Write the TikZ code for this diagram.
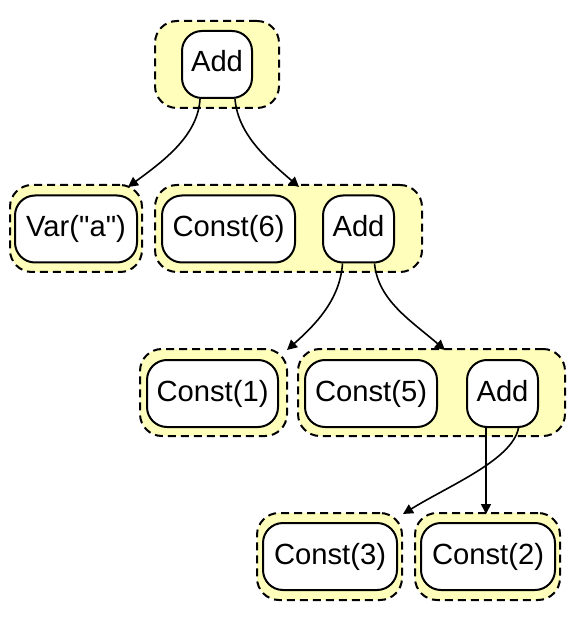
\documentclass[tikz,border=0pt]{standalone}
\usepackage{fontspec}
\setmainfont{Liberation Sans}[Ligatures=TeXOff]
\usetikzlibrary{arrows.meta}
\definecolor{softyellow}{HTML}{FFFFBB}

\begin{document}
\begin{tikzpicture}[x=0.5pt,y=-0.5pt,>=Latex,font=\fontsize{14.6}{17}\selectfont]
  \tikzset{
    cluster/.style={draw=black,fill=softyellow,dash pattern=on 4pt off 2.5pt,line width=1pt,rounded corners=11pt,minimum height=43.5pt,inner sep=0pt},
    term/.style={draw=black,fill=white,line width=1pt,rounded corners=10pt,minimum height=33.5pt,inner sep=0pt,text height=10.5pt,text depth=3pt},
    flow/.style={black,line width=.8pt,-{Triangle[length=5pt,width=5pt]}}
  }
  \useasboundingbox (0,0) rectangle (580,619);

  % Clusters.
  \node[cluster,minimum width=62pt] (clTop) at (217,64.5) {};
  \node[cluster,minimum width=66pt] (clVar) at (76,228.5) {};
  \node[cluster,minimum width=133.5pt] (clB) at (288.5,228.5) {};
  \node[cluster,minimum width=73.5pt] (clOne) at (213.5,392.5) {};
  \node[cluster,minimum width=133.5pt] (clC) at (431.5,392.5) {};
  \node[cluster,minimum width=72.5pt] (clThree) at (329.5,556.5) {};
  \node[cluster,minimum width=72.5pt] (clTwo) at (487.5,556.5) {};

  % Terms.
  \node[term,minimum width=35pt] (addA) at (217,64.5) {Add};
  \node[term,minimum width=61pt] (varA) at (76,229) {Var("a")};
  \node[term,minimum width=66.5pt] (cSix) at (228.5,229) {Const(6)};
  \node[term,minimum width=35.5pt] (addB) at (358.5,229) {Add};
  \node[term,minimum width=65.5pt] (cOne) at (212.5,393.5) {Const(1)};
  \node[term,minimum width=66pt] (cFive) at (371,393.5) {Const(5)};
  \node[term,minimum width=35.5pt] (addC) at (502.5,393.5) {Add};
  \node[term,minimum width=67pt] (cThree) at (330,556.5) {Const(3)};
  \node[term,minimum width=67pt] (cTwo) at (488,556.5) {Const(2)};

  % Edge heads on the cluster borders.
  \coordinate (tVar) at (128,187);
  \coordinate (tB) at (299,187);
  \coordinate (tOne) at (287,350);
  \coordinate (tC) at (445,350);
  \coordinate (tThree) at (403,514);
  \coordinate (tTwo) at (486,514);

  \draw[flow] ([xshift=-8.5pt]addA.south) .. controls (198,135) and (165,160) .. (tVar);
  \draw[flow] ([xshift=9pt]addA.south) .. controls (238,135) and (268,160) .. (tB);
  \draw[flow] ([xshift=-8pt]addB.south) .. controls (340,300) and (315,325) .. (tOne);
  \draw[flow] ([xshift=8pt]addB.south) .. controls (378,300) and (410,320) .. (tC);
  \draw[flow] ([xshift=-8.25pt]addC.south) -- (tTwo);
  \draw[flow] ([xshift=8pt]addC.south) .. controls (512,460) and (450,485) .. (tThree);
\end{tikzpicture}
\end{document}
